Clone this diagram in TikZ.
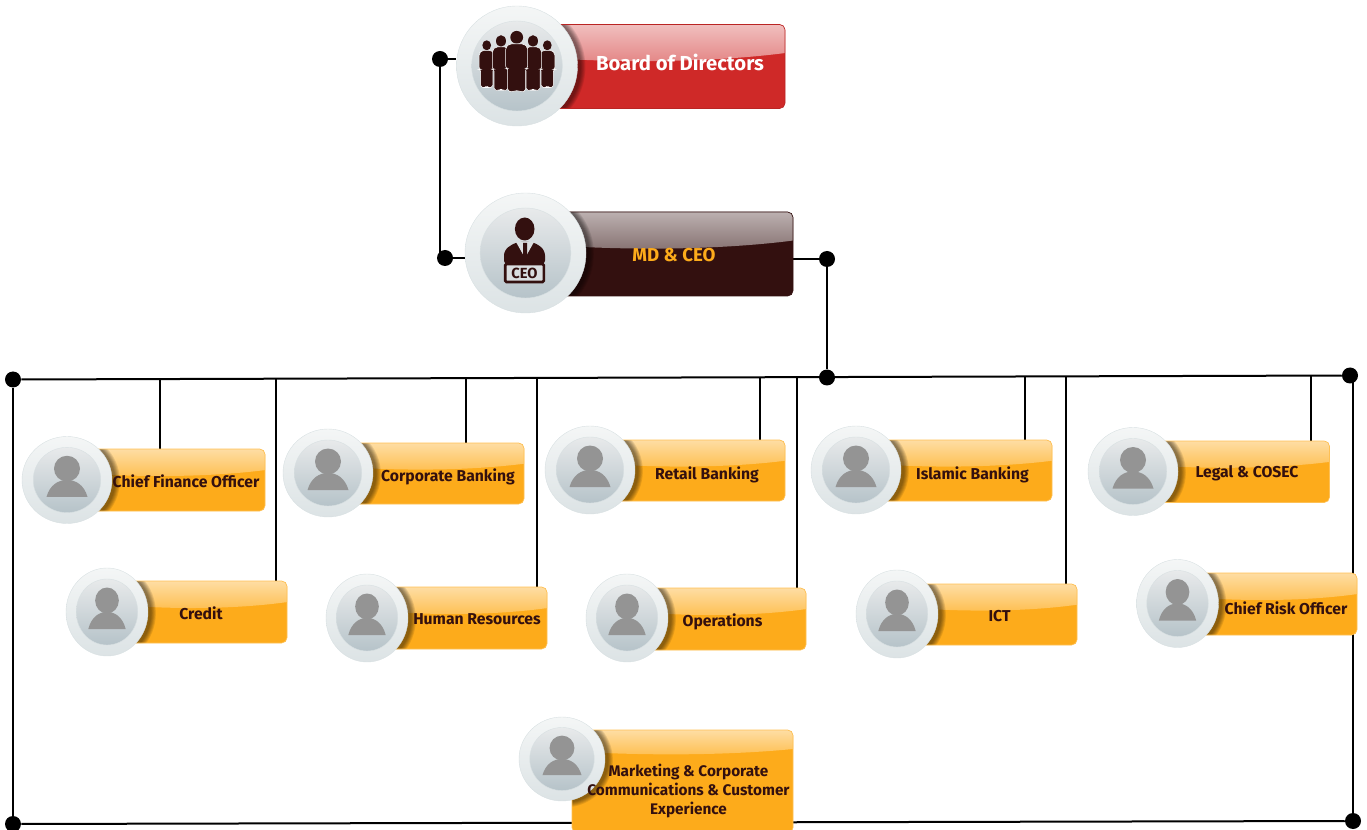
\documentclass[tikz,border=0pt]{standalone}
\usepackage{fontspec}
\setmainfont{Fira Sans}
\usetikzlibrary{calc,shapes.geometric,backgrounds}

\definecolor{inkdark}{HTML}{33100F}
\definecolor{amber}{HTML}{FDAB1B}
\definecolor{bloodred}{HTML}{CF2928}
\definecolor{discrim}{HTML}{D8E0E2}
\definecolor{disctop}{HTML}{F4F6F6}
\definecolor{discbottom}{HTML}{DCE3E5}
\definecolor{innertop}{HTML}{E8EAEB}
\definecolor{innerbottom}{HTML}{B6C3C9}
\definecolor{signgrey}{HTML}{DADEE0}

\tikzset{
  wire/.style={black,line width=1.5pt},
  jointdot/.style={circle,fill=black,inner sep=0pt,minimum size=12pt},
  redcard/.style={rectangle,inner sep=0pt,outer sep=0pt,fill=bloodred,rounded corners=4pt},
  browncard/.style={rectangle,inner sep=0pt,outer sep=0pt,fill=inkdark,rounded corners=4pt},
  orangecard/.style={rectangle,inner sep=0pt,outer sep=0pt,fill=amber,rounded corners=4pt},
  redgloss/.style={top color=bloodred!30!white,bottom color=bloodred!58!white},
  browngloss/.style={top color=inkdark!33!white,bottom color=inkdark!60!white},
  orangegloss/.style={top color=amber!40!white,bottom color=amber!78!white},
  rededge/.style={draw=bloodred!90!black},
  brownedge/.style={draw=inkdark},
  orangeedge/.style={draw=amber!75!white},
  outerdisc/.style={ellipse,inner sep=0pt,draw=discrim,line width=0.3pt,top color=disctop,bottom color=discbottom},
  innerdisc/.style={ellipse,inner sep=0pt,draw=discrim,line width=0.3pt,top color=innertop,bottom color=innerbottom},
  cardlabel/.style={font=\bfseries\fontsize{11.8pt}{14.2pt}\selectfont,text=inkdark,align=center,inner sep=0pt},
  bigcardlabel/.style={font=\bfseries\fontsize{14pt}{17pt}\selectfont,align=center,inner sep=0pt},
}

% name, palette, disc x, disc y, disc x radius, disc y radius, box right, box top, box bottom
\newcommand{\cardbody}[9]{
  \pgfmathsetmacro{\gh}{(#9-#8>90)?19:0.34*(#9-#8)}
  \node[#2card,anchor=north east,minimum width={(#7-#3-10)*0.75pt},minimum height={(#9-#8)*0.75pt}] (#1box) at (#7,#8) {};
  \begin{scope}
    \clip[rounded corners=4pt] (#1box.south west) rectangle (#1box.north east);
    \path[#2gloss] (#1box.north west) -- (#1box.north east) -- ++(0,\gh)
      .. controls ({#3+0.75*(#7-#3)},{#8+1.3*\gh}) and ({#3+0.4*(#7-#3)},{#8+1.4*\gh}) .. (#3,{#8+1.1*\gh}) -- cycle;
    \foreach \s in {1,...,6} {
      \fill[black,opacity=0.09] ({#3+2.5},{#4+1}) ellipse [x radius={#5+0.9*\s},y radius={#6+0.9*\s}];
    }
  \end{scope}
  \draw[#2edge,line width=0.5pt,rounded corners=4pt] (#1box.south west) rectangle (#1box.north east);
  \node[outerdisc,minimum width={2*#5*0.75pt},minimum height={2*#6*0.75pt}] (#1disc) at (#3,#4) {};
  \node[innerdisc,minimum width={1.5*#5*0.75pt},minimum height={1.5*#6*0.75pt}] (#1inner) at (#3,#4) {};
}

\begin{document}
\begin{tikzpicture}[x=0.75pt,y=-0.75pt]
  \path[use as bounding box] (0,0) rectangle (1367,830);
  \clip (0,0) rectangle (1367,830);

  \cardbody{board}{red}{517}{66}{60.5}{60}{785}{24.5}{108.5}
  \cardbody{ceo}{brown}{525.5}{253}{60.5}{60}{793}{212}{296}

  \foreach \nm/\cx/\cy/\rx/\ry/\br/\bt/\bb/\lx/\ly/\txt in {
    cfo/67/480/45/43.5/265/449/511/186/481.5/{Chief Finance Officer},
    credit/107/612/41/44/287/581/643/201/613.5/{Credit},
    corp/328/473/45/44/524/443/504/448/477/{Corporate Banking},
    hr/367/618/41/44/547/587/649/477/619/{Human Resources},
    retail/590/470/45/44/785/440/501/707/475/{Retail Banking},
    ops/627/618/41/44/806/588/650/722.5/622/{Operations},
    islamic/856/470/45/44/1052/440/501/972.5/475/{Islamic Banking},
    ict/897/614/41/44/1077/584/645/999.5/616/{ICT},
    legal/1133/471.5/45/44/1329.5/441/502.5/1247/473/{Legal \& COSEC},
    risk/1177.5/603.5/41/44/1357/573/635/1286/608.5/{Chief Risk Officer},
    mark/562/759/43/42/793/730/833/688.5/791/{\fontsize{11.5pt}{14.2pt}\selectfont Marketing \& Corporate\\\fontsize{11.5pt}{14.2pt}\selectfont Communications \& Customer\\\fontsize{11.5pt}{14.2pt}\selectfont Experience}%
  } {
    \cardbody{\nm}{orange}{\cx}{\cy}{\rx}{\ry}{\br}{\bt}{\bb}
    \begin{scope}[shift={(\cx,\cy)},xscale=\rx/45,yscale=\ry/44]
      \fill[black!42] (0,-11.5) circle [radius=13];
      \fill[black!42] (-20.5,17) .. controls (-17,5) and (-9,0) .. (0,0) .. controls (9,0) and (17,5) .. (20.5,17) -- cycle;
    \end{scope}
    \node[cardlabel] (\nm label) at (\lx,\ly) {\txt};
  }

  % five people of the board, the outer ones first
  \foreach \px/\py/\sx/\sy in {486.7/45.3/0.68/0.78,547.3/45.3/0.68/0.78,501/41/0.78/0.91,533/41/0.78/0.91,516.7/37.3/1/1} {
    \begin{scope}[shift={(\px,\py)},xscale=\sx,yscale=\sy]
      \fill[inkdark] (0,0) circle [radius=6.4];
      \draw[white,line width=0.4pt,fill=inkdark,rounded corners=1.5pt]
        (-11,10) -- (-11,31) -- (-9,31) -- (-9,54) -- (-3,54.5) -- (0,53) -- (3,54.5) -- (9,54) -- (9,31) -- (11,31) -- (11,10) -- (7,6.5) -- (-7,6.5) -- cycle;
    \end{scope}
  }

  % the CEO with his sign
  \fill[inkdark] (524.7,229) ellipse [x radius=9.8,y radius=11.5];
  \fill[inkdark,rounded corners=4pt] (504,266) -- (504,250) -- (516,242) -- (534,242) -- (545,250) -- (545,266) -- cycle;
  \fill[signgrey] (516,242) -- (534,242) -- (525,258) -- cycle;
  \fill[inkdark] (523,243) -- (527,243) -- (527,256) -- (525,259) -- (523,256) -- cycle;
  \node[rectangle,fill=signgrey,draw=inkdark,line width=2pt,rounded corners=1pt,minimum width=29pt,minimum height=13.5pt,inner sep=0pt,
    font=\bfseries\fontsize{11pt}{11pt}\selectfont,text=inkdark] (ceosign) at (524.5,273) {CEO};

  \node[bigcardlabel,text=white,font=\bfseries\fontsize{15.2pt}{17pt}\selectfont] (boardlabel) at (680,62) {Board of Directors};
  \node[bigcardlabel,text=amber] (ceolabel) at (674,255) {MD \& CEO};

  \node[jointdot] (boarddot) at (440,59) {};
  \node[jointdot] (ceodot) at (445,258) {};
  \node[jointdot] (staffdot) at (827,259) {};
  \node[jointdot] (busdot) at (827,377.5) {};
  \node[jointdot] (nwdot) at (13,379.5) {};
  \node[jointdot] (nedot) at (1350,375.5) {};
  \node[jointdot] (swdot) at (13,824) {};
  \node[jointdot] (sedot) at (1353,821) {};

  \begin{scope}[on background layer]
    \draw[wire] (boarddot) -- (boarddot -| boarddisc.west);
    \draw[wire] (boarddot) -- (boarddot |- ceodot) -- (ceodot);
    \draw[wire] (ceodot) -- (ceodot -| ceodisc.west);
    \draw[wire] (ceobox.east |- staffdot) -- (staffdot) -- (busdot);
    \draw[wire] (nwdot) -- (nedot);
    \draw[wire] (nwdot) -- (swdot);
    \draw[wire] (swdot) -- (sedot);
    \draw[wire] (nedot.center) -- ++(3,0) -- (sedot);
    \foreach \nm/\tx/\ty in {cfo/160/379,credit/275.5/379,corp/466/379,hr/537/378.5,retail/760/378,ops/797/378,islamic/1025/377.5,ict/1066/377.5,legal/1311/376} {
      \coordinate (\nm tap) at (\tx,\ty);
      \draw[wire] (\nm tap) -- (\nm tap |- \nm box.north);
    }
  \end{scope}
\end{tikzpicture}
\end{document}
